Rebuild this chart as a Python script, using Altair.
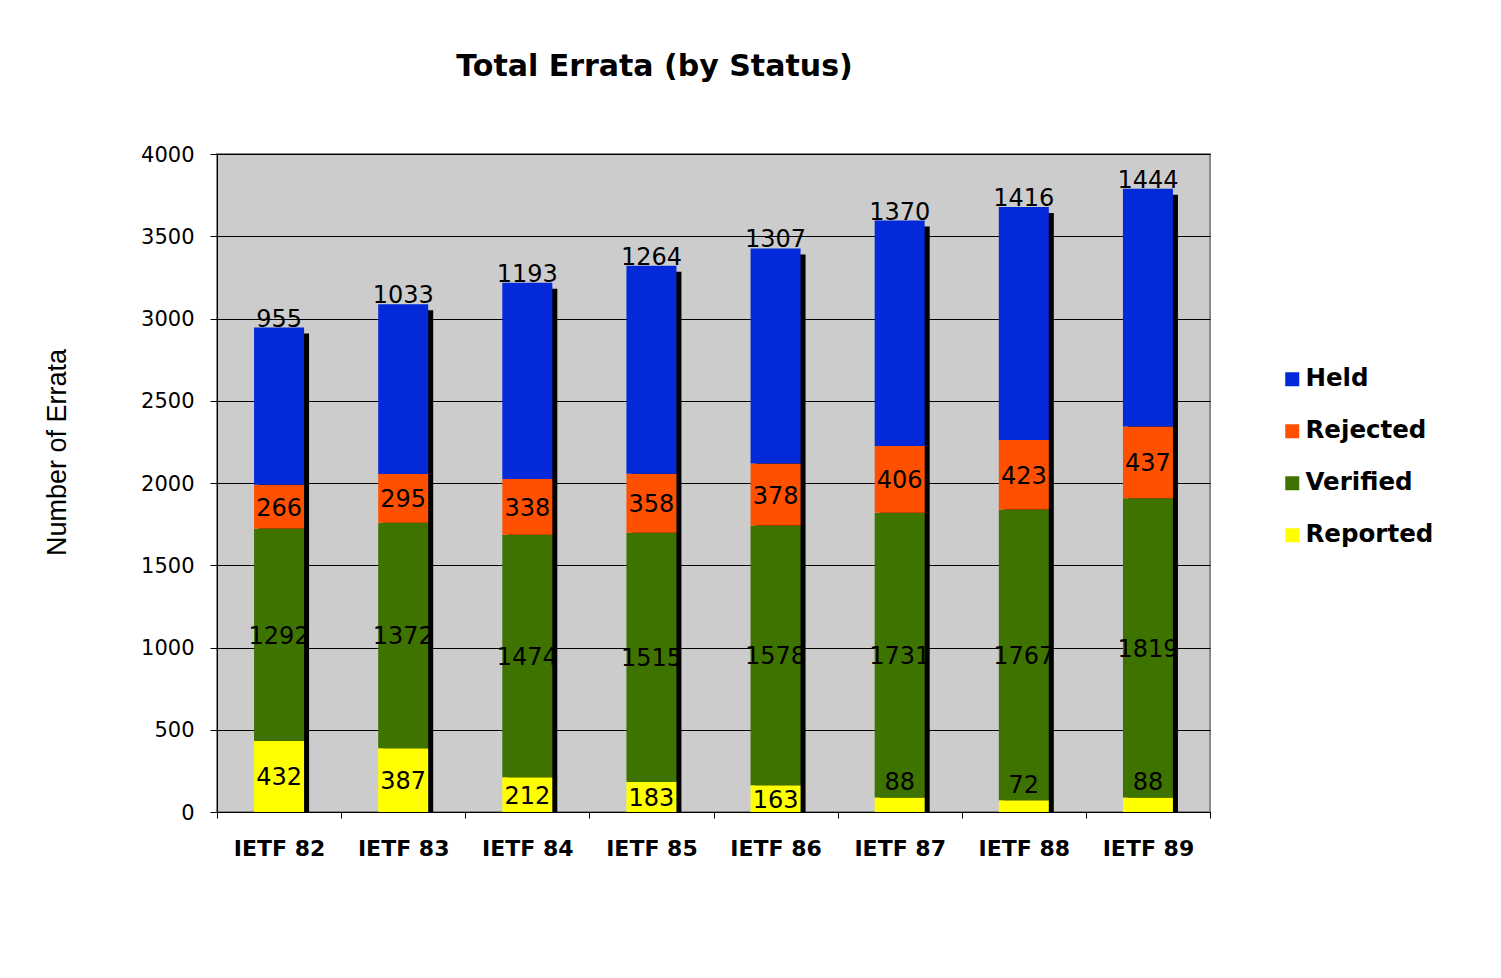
import altair as alt
import pandas as pd

categories = ["IETF 82", "IETF 83", "IETF 84", "IETF 85", "IETF 86", "IETF 87", "IETF 88", "IETF 89"]
reported = [432, 387, 212, 183, 163, 88, 72, 88]
verified = [1292, 1372, 1474, 1515, 1578, 1731, 1767, 1819]
rejected = [266, 295, 338, 358, 378, 406, 423, 437]
held = [955, 1033, 1193, 1264, 1307, 1370, 1416, 1444]

stack_order = ["Reported", "Verified", "Rejected", "Held"]
legend_order = ["Held", "Rejected", "Verified", "Reported"]
legend_colors = ["#0329D9", "#FF5000", "#3F7300", "#FFFF00"]
y_ticks = [0, 500, 1000, 1500, 2000, 2500, 3000, 3500, 4000]

series = {"Reported": reported, "Verified": verified, "Rejected": rejected, "Held": held}

rows = []
totals = []
for i, cat in enumerate(categories):
    cum = 0
    for k, st in enumerate(stack_order):
        v = series[st][i]
        start, end = cum, cum + v
        mid = (start + end) / 2
        if st == "Held":
            lab = end
        elif v < 120:
            lab = end + 100
        else:
            lab = mid
        rows.append({"cat": cat, "status": st, "value": v, "start": start,
                     "end": end, "label_y": lab, "order": k})
        cum = end
    totals.append({"cat": cat, "total": cum})

df = pd.DataFrame(rows)
tdf = pd.DataFrame(totals)

x_enc = alt.X("cat:N", sort=categories, title=None,
              scale=alt.Scale(paddingInner=0, paddingOuter=0),
              axis=alt.Axis(labelAngle=0, labelFont="DejaVu Sans", labelFontWeight="bold",
                            labelFontSize=22, labelColor="black", labelPadding=20,
                            tickSize=6, tickBand="extent", tickColor="black",
                            domainColor="black", grid=False))
y_scale = alt.Scale(domain=[0, 4000], nice=False)

shadow = alt.Chart(tdf).mark_bar(color="black", size=50, xOffset=5, x2Offset=5,
                                 yOffset=6, y2Offset=6, clip=True).encode(
    x=x_enc,
    y=alt.Y("total:Q", scale=y_scale,
            axis=alt.Axis(values=y_ticks, format="d", title="Number of Errata",
                          labelFontSize=21, labelColor="black", labelPadding=16,
                          labelOffset=1,
                          tickSize=7, tickColor="black", domainColor="black",
                          gridColor="black", gridWidth=1,
                          titleFont="Liberation Sans", titleFontSize=27,
                          titleFontWeight="normal", titleColor="black",
                          titleAngle=270, titleBaseline="middle", titleAlign="center",
                          titleX=-160, titleY=298)),
)

bars = alt.Chart(df).mark_bar(size=50).encode(
    x=x_enc,
    y=alt.Y("start:Q", scale=y_scale),
    y2="end:Q",
    color=alt.Color("status:N",
                    scale=alt.Scale(domain=legend_order, range=legend_colors),
                    legend=alt.Legend(title=None, orient="none", legendX=1063, legendY=213,
                                      symbolType="square", symbolSize=196, symbolStrokeWidth=0,
                                      labelFont="DejaVu Sans", labelFontWeight="bold",
                                      labelFontSize=24.5, labelColor="black", labelOffset=1,
                                      rowPadding=27)),
    order="order:Q",
)

labels = alt.Chart(df).transform_filter(alt.datum.status != "Held").mark_text(
    fontSize=24, color="black", baseline="middle", align="center", dy=2).encode(
    x=x_enc,
    y=alt.Y("label_y:Q", scale=y_scale),
    text="value:Q",
)

held_labels = alt.Chart(df).transform_filter(alt.datum.status == "Held").mark_text(
    fontSize=24, color="black", baseline="middle", align="center", dy=-8).encode(
    x=x_enc,
    y=alt.Y("label_y:Q", scale=y_scale),
    text="value:Q",
)

chart = alt.layer(shadow, bars, labels, held_labels).properties(
    width=993, height=658,
    title=alt.TitleParams("Total Errata (by Status)", font="DejaVu Sans", fontSize=30,
                          fontWeight="bold", color="black", anchor="middle",
                          dx=-59, offset=38, baseline="alphabetic"),
    padding={"left": 209, "top": 146, "right": 275, "bottom": 150},
    autosize=alt.AutoSizeParams(type="none"),
).configure(
    font="DejaVu Sans", background="white"
).configure_view(
    fill="#CCCCCC", stroke="#8A8A8A", strokeWidth=2
)

chart.save("out.html", embed_options={"renderer": "svg", "actions": False})
